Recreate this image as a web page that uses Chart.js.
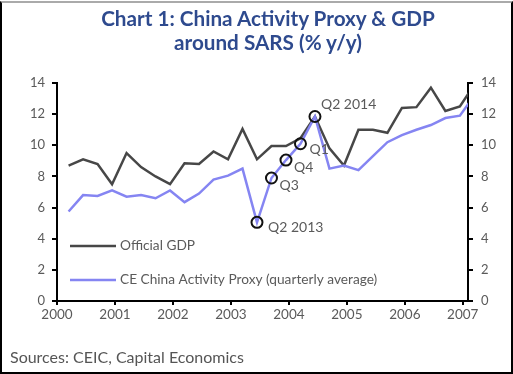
<!DOCTYPE html>
<html><head><meta charset="utf-8">
<script src="https://cdn.jsdelivr.net/npm/chart.js@4.4.0/dist/chart.umd.min.js"></script>
<style>
html,body{margin:0;padding:0;background:#fff;}
#wrap{position:relative;width:513px;height:374px;overflow:hidden;font-family:Lato,"Open Sans",sans-serif;}
#frame{position:absolute;left:0;top:1px;width:509px;height:369px;border:2px solid #000;border-top-color:#aaa;pointer-events:none;}
#title{position:absolute;left:0;width:536px;top:6px;text-align:center;color:#2e4a8e;font-weight:bold;font-size:20.7px;line-height:24px;}
#src{position:absolute;left:10px;top:347px;color:#555;font-size:16px;}
canvas{position:absolute;left:0;top:0;}
</style></head>
<body><div id="wrap"><canvas id="c" width="513" height="374"></canvas><div id="frame"></div><div id="title">Chart 1: China Activity Proxy &amp; GDP<br>around SARS (% y/y)</div><div id="src">Sources: CEIC, Capital Economics</div></div>
<script>
// Quarters Q1 2000 .. Q1 2007
const quarters = ['2000Q1','2000Q2','2000Q3','2000Q4','2001Q1','2001Q2','2001Q3','2001Q4',
  '2002Q1','2002Q2','2002Q3','2002Q4','2003Q1','2003Q2','2003Q3','2003Q4',
  '2004Q1','2004Q2','2004Q3','2004Q4','2005Q1','2005Q2','2005Q3','2005Q4',
  '2006Q1','2006Q2','2006Q3','2006Q4','2007Q1'];
const officialGDP = [8.7,9.1,8.8,7.5,9.5,8.6,8.0,7.5,8.85,8.8,9.6,9.1,11.05,9.1,9.95,9.95,
  10.45,11.85,9.8,8.7,11.0,11.0,10.8,12.4,12.45,13.7,12.2,12.5,13.9];
const activityProxy = [5.75,6.8,6.75,7.1,6.7,6.8,6.6,7.1,6.35,6.9,7.8,8.05,8.5,5.05,7.9,9.05,
  10.1,11.85,8.5,8.7,8.4,9.3,10.2,10.65,11.0,11.3,11.75,11.9,13.2];
const markerIndex = [13,14,15,16,17];
const markerLabels = ['Q2 2013','Q3','Q4','Q1','Q2 2014'];
const xTicks = [2000,2001,2002,2003,2004,2005,2006,2007];
const yTicks = [0,2,4,6,8,10,12,14];
const seriesNames = ['Official GDP','CE China Activity Proxy (quarterly average)'];

const qx = s => parseInt(s.slice(0,4)) + (parseInt(s.slice(5)) - 1) * 0.25 + 0.2;
const xs = quarters.map(qx);
const gdpPts = xs.map((x,i)=>({x, y: officialGDP[i]}));
const proxyPts = xs.map((x,i)=>({x, y: activityProxy[i]}));
const markPts = markerIndex.map(i=>({x: xs[i], y: activityProxy[i]}));

const GDP_COL = '#474747', PROXY_COL = '#8585f2', TXT = '#5a5a5a';
const FONT = 'Lato, "Open Sans", sans-serif';
const labelOffsets = [[11,5],[8,7],[8,7],[9,6],[6,-12]];

const overlay = {
  id:'overlay',
  afterDatasetsDraw(chart){
    const ctx = chart.ctx, a = chart.chartArea, xs_ = chart.scales.x, ys_ = chart.scales.y;
    ctx.save();
    ctx.font = '14px ' + FONT;
    ctx.fillStyle = TXT; ctx.textBaseline = 'middle'; ctx.textAlign = 'left';
    markPts.forEach((p,k)=>{
      const px = xs_.getPixelForValue(p.x), py = ys_.getPixelForValue(p.y);
      ctx.fillText(markerLabels[k], px + labelOffsets[k][0], py + labelOffsets[k][1]);
    });
    ctx.font = '13.7px ' + FONT;
    const items = [[seriesNames[0], GDP_COL, a.top + 163], [seriesNames[1], PROXY_COL, a.top + 197]];
    items.forEach(([t,c,y])=>{
      ctx.strokeStyle = c; ctx.lineWidth = 2.5;
      ctx.beginPath(); ctx.moveTo(a.left + 13, y); ctx.lineTo(a.left + 59, y); ctx.stroke();
      ctx.fillStyle = TXT;
      ctx.fillText(t, a.left + 63, y);
    });
    ctx.restore();
  }
};

const axisCommon = {
  min: 0, max: 14,
  afterBuildTicks: s => { s.ticks = yTicks.map(v=>({value:v})); },
  ticks: {color: TXT, font:{size:13, family:FONT}, padding:7},
  grid: {drawOnChartArea:false, drawTicks:true, tickLength:5, color:'#000', lineWidth:2},
  border: {display:true, color:'#000', width:2}
};

new Chart(document.getElementById('c'), {
  type:'line',
  data:{datasets:[
    {label:'markers', data: markPts, showLine:false, pointRadius:5.5, pointBorderWidth:2,
      pointBorderColor:'#111', pointBackgroundColor:'rgba(0,0,0,0)', order:0},
    {label: seriesNames[1], data: proxyPts, borderColor: PROXY_COL, borderWidth:2.5, pointRadius:0, tension:0, order:1},
    {label: seriesNames[0], data: gdpPts, borderColor: GDP_COL, borderWidth:2.5, pointRadius:0, tension:0, order:2}
  ]},
  options:{
    responsive:false, animation:false, devicePixelRatio:1,
    layout:{padding:{top:83, left:0, right:0, bottom:0}},
    plugins:{legend:{display:false}, tooltip:{enabled:false}, title:{display:false}},
    scales:{
      x:{type:'linear', min:2000, max:2007.09,
        afterBuildTicks: s => { s.ticks = xTicks.map(v=>({value:v})); },
        afterFit: s => { s.height = 73; },
        ticks:{color:TXT, font:{size:13.5, family:FONT}, padding:2, callback: v => String(v), maxRotation:0, autoSkip:false},
        grid:{drawOnChartArea:false, drawTicks:true, tickLength:4, color:'#000', lineWidth:2},
        border:{display:true, color:'#000', width:2}},
      y: Object.assign({}, axisCommon, {position:'left', afterFit: s => { s.width = 57; }}),
      y2: Object.assign({}, axisCommon, {position:'right', afterFit: s => { s.width = 45; },
        ticks:{color: TXT, font:{size:13, family:FONT}, padding:8}})
    }
  },
  plugins:[overlay]
});
</script>
</body></html>
